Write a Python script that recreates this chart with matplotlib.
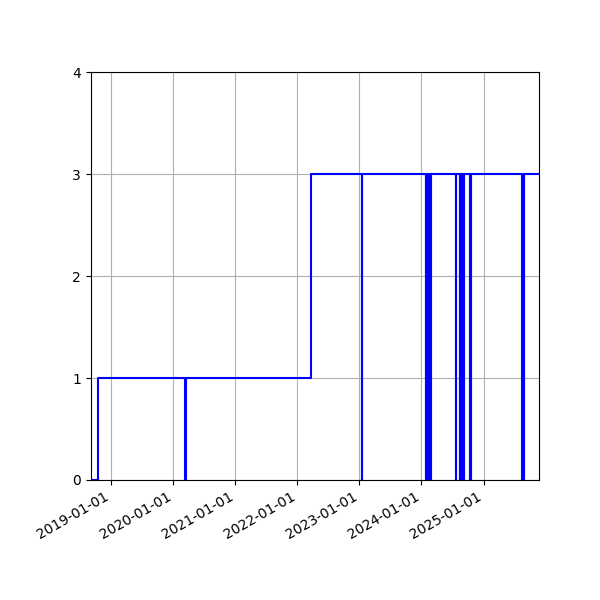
import numpy as np
import pandas as pd
import matplotlib
matplotlib.use("Agg")
import matplotlib.pyplot as plt
import matplotlib.dates as mdates

# level changes (date, level)
level_dates = ["2018-09-01", "2018-10-17", "2022-03-22"]
level_values = [0, 1, 3]

# single-day drops to zero
dip_dates = [
    "2020-03-12",
    "2023-01-15",
    "2024-01-28", "2024-02-01", "2024-02-05", "2024-02-09",
    "2024-02-13", "2024-02-17", "2024-02-21", "2024-02-25",
    "2024-07-24",
    "2024-08-15", "2024-08-19", "2024-08-23", "2024-08-27",
    "2024-08-31", "2024-09-04", "2024-09-08",
    "2024-10-15", "2024-10-19",
    "2025-08-18", "2025-08-22", "2025-08-26",
]
end_date = "2025-11-26"

tick_labels = ["2019-01-01", "2020-01-01", "2021-01-01", "2022-01-01",
               "2023-01-01", "2024-01-01", "2025-01-01"]


def _level_at(d, lv_dates, lv_vals):
    v = lv_vals[0]
    for ld, lvv in zip(lv_dates, lv_vals):
        if ld <= d:
            v = lvv
    return v


lv_dates = pd.to_datetime(level_dates)
events = list(zip(lv_dates, level_values))
for d in pd.to_datetime(dip_dates):
    events.append((d, 0))
    events.append((d + pd.Timedelta(days=1), _level_at(d, lv_dates, level_values)))
events.sort(key=lambda e: e[0])
end = pd.Timestamp(end_date)
events.append((end, events[-1][1]))

x = [e[0] for e in events]
y = [e[1] for e in events]

fig, ax = plt.subplots(figsize=(6, 6), dpi=100)
fig.subplots_adjust(left=0.151, right=0.899, top=0.88, bottom=0.2)

ax.step(x, y, where="post", color="blue", linewidth=1.5)

ax.set_xlim(x[0], end)
ax.set_ylim(0, 4)
ax.set_yticks([0, 1, 2, 3, 4])
ax.set_xticks(pd.to_datetime(tick_labels))
ax.xaxis.set_major_formatter(mdates.DateFormatter("%Y-%m-%d"))
ax.grid(True)
for lbl in ax.get_xticklabels():
    lbl.set_rotation(30)
    lbl.set_ha("right")

fig.savefig("out.png", dpi=100)
